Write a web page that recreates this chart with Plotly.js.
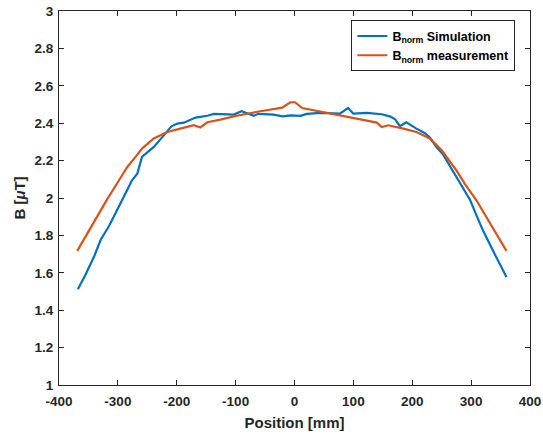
<!DOCTYPE html>
<html>
<head>
<meta charset="utf-8">
<script src="https://cdn.plot.ly/plotly-3.0.1.min.js"></script>
<style>html,body{margin:0;padding:0;background:#fff;}#chart{width:543px;height:435px;}</style>
</head>
<body>
<div id="chart"></div>
<script>
const simX = [-368,-355,-340,-329,-315,-298,-285,-276,-267,-259,-247,-239,-222,-209,-199,-188,-168,-148,-137,-120,-103,-90,-80,-69,-61,-36,-20,-7,10,21,44,77,91,100,123,148,163,171,179,190,207,221,230,241,252,270,285,298,310,320,340,360];
const simY = [1.512,1.59,1.69,1.778,1.85,1.952,2.037,2.095,2.13,2.22,2.255,2.273,2.335,2.383,2.398,2.403,2.43,2.44,2.45,2.45,2.446,2.464,2.452,2.44,2.45,2.446,2.437,2.442,2.439,2.45,2.455,2.451,2.481,2.451,2.455,2.448,2.435,2.421,2.384,2.405,2.371,2.348,2.323,2.273,2.234,2.139,2.06,1.991,1.9,1.827,1.70,1.578];
const measX = [-369,-350,-335,-318,-298,-284,-270,-259,-239,-216,-194,-171,-160,-148,-126,-98,-58,-21,-7,1,13,38,77,106,128,140,148,159,185,207,230,250,275,289,309,335,360];
const measY = [1.717,1.822,1.905,1.994,2.095,2.166,2.22,2.264,2.318,2.353,2.371,2.389,2.377,2.405,2.419,2.44,2.464,2.483,2.512,2.512,2.481,2.465,2.442,2.425,2.41,2.403,2.38,2.389,2.371,2.353,2.318,2.255,2.148,2.077,1.988,1.85,1.717];
const xTickVals = [-400,-300,-200,-100,0,100,200,300,400];
const xTickText = ['-400','-300','-200','-100','0','100','200','300','400'];
const yTickVals = [1,1.2,1.4,1.6,1.8,2,2.2,2.4,2.6,2.8,3];
const yTickText = ['1','1.2','1.4','1.6','1.8','2','2.2','2.4','2.6','2.8','3'];
const seriesNames = ['B<sub>norm</sub> Simulation','B<sub>norm</sub> measurement'];

const axisCommon = {
  showgrid:false, zeroline:false, showline:true, mirror:'ticks',
  linecolor:'#262626', linewidth:1, ticks:'inside', ticklen:5, tickcolor:'#262626',
  tickfont:{family:'Liberation Sans, Arial, sans-serif', size:13.5, color:'#262626', weight:'bold'}
};

const data = [
  {x:simX, y:simY, type:'scatter', mode:'lines', name:seriesNames[0], line:{color:'#0072BD', width:2.2}},
  {x:measX, y:measY, type:'scatter', mode:'lines', name:seriesNames[1], line:{color:'#D95319', width:2.2}}
];
const layout = {
  width:543, height:435,
  margin:{l:58.5, r:12.5, t:10.7, b:50, pad:0},
  paper_bgcolor:'#fff', plot_bgcolor:'#fff',
  font:{family:'Liberation Sans, Arial, sans-serif', color:'#262626'},
  showlegend:true,
  legend:{x:0.969, y:0.975, xanchor:'right', yanchor:'top', bgcolor:'#fff', bordercolor:'#262626', borderwidth:1,
    font:{size:12.5, weight:'bold', color:'#000'}, tracegroupgap:0, itemwidth:30},
  xaxis:Object.assign({}, axisCommon, {range:[-400,400], tickvals:xTickVals, ticktext:xTickText, ticklabelstandoff:4,
    title:{text:'Position [mm]', font:{size:15, weight:'bold', color:'#262626'}, standoff:9}}),
  yaxis:Object.assign({}, axisCommon, {range:[1,3], tickvals:yTickVals, ticktext:yTickText, ticklabelstandoff:2,
    title:{text:'B [<i>μ</i>T]', font:{size:15, weight:'bold', color:'#262626'}, standoff:5}})
};
Plotly.newPlot('chart', data, layout, {displayModeBar:false, staticPlot:true});
</script>
</body>
</html>
